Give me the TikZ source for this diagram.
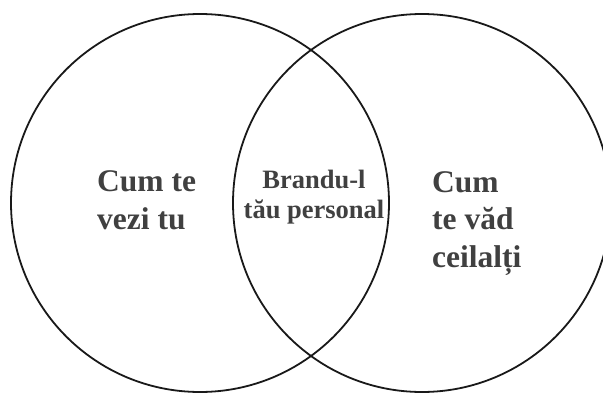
\documentclass[tikz,border=0pt]{standalone}
\usepackage{fontspec}
\setmainfont{Liberation Serif}
\usetikzlibrary{positioning}
\definecolor{labelgray}{RGB}{64,64,64}

\begin{document}
\begin{tikzpicture}[
    x=1pt, y=1pt,
    venn/.style={circle, draw=black!90, line width=1.8pt, inner sep=0pt, minimum size=378pt},
    sidelabel/.style={font=\bfseries\fontsize{31.5}{37.5}\selectfont, text=labelgray, align=left, inner sep=0pt, anchor=base west},
    midlabel/.style={font=\bfseries\fontsize{26.5}{30}\selectfont, text=labelgray, align=center, inner sep=0pt, anchor=base}
]
    \useasboundingbox (0,0) rectangle (603,392);
    \clip (0,0) rectangle (603,392);

    % Circles
    \node[venn] (self) at (200,189) {};
    \node[venn] (others) at (422,189) {};

    % Labels (base = last line)
    \node[sidelabel] (selftext) at (97,163) {Cum te\\vezi tu};
    \node[midlabel] (brandtext) at (314,174) {Brandu-l\\tău personal};
    \node[sidelabel] (otherstext) at (432,125) {Cum\\te văd\\ceilalți};
\end{tikzpicture}
\end{document}
